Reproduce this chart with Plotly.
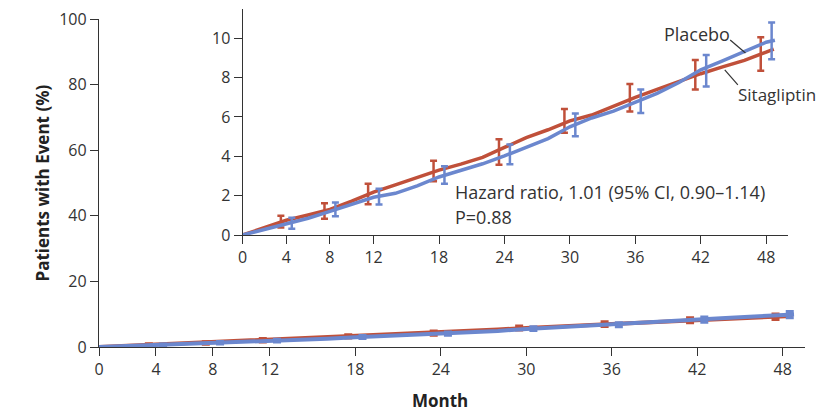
import plotly.graph_objects as go

# ---- data ----
months = [0, 2, 4, 6, 8, 10, 12, 14, 16, 18, 20, 22, 24, 26, 28, 30, 32, 34, 36, 38, 40, 42, 44, 46, 48]
sitagliptin = [0, 0.38, 0.75, 1.02, 1.3, 1.72, 2.18, 2.55, 2.92, 3.3, 3.6, 3.95, 4.45, 4.95, 5.35,
               5.8, 6.1, 6.55, 7.0, 7.4, 7.8, 8.2, 8.55, 8.88, 9.3]
placebo = [0, 0.28, 0.55, 0.85, 1.2, 1.55, 1.92, 2.12, 2.5, 2.95, 3.3, 3.62, 4.02, 4.45, 4.9,
           5.5, 5.95, 6.3, 6.75, 7.2, 7.75, 8.4, 8.85, 9.33, 9.8]
sita_end = (48.7, 9.45)
plac_end = (48.8, 9.9)

sita_ci_month = [3.5, 7.5, 11.5, 17.5, 23.5, 29.5, 35.5, 41.5, 47.5]
sita_ci_mid = [0.68, 1.22, 2.08, 3.25, 4.22, 5.8, 6.98, 8.15, 9.2]
sita_ci_half = [0.3, 0.4, 0.52, 0.52, 0.65, 0.6, 0.7, 0.75, 0.85]

plac_ci_month = [4.5, 8.5, 12.5, 18.5, 24.5, 30.5, 36.5, 42.5, 48.5]
plac_ci_mid = [0.6, 1.3, 1.95, 3.05, 4.1, 5.6, 6.8, 8.35, 9.87]
plac_ci_half = [0.28, 0.35, 0.4, 0.45, 0.5, 0.58, 0.6, 0.8, 0.93]

month_ticks = [0, 4, 8, 12, 18, 24, 30, 36, 42, 48]
main_y_ticks = [0, 20, 40, 60, 80, 100]
inset_y_ticks = [0, 2, 4, 6, 8, 10]

RED = "#C0503A"
BLUE = "#6B87CE"
AX = "#333333"
FONT = "Open Sans"

sx = months + [sita_end[0]]
sy = sitagliptin + [sita_end[1]]
px = months + [plac_end[0]]
py = placebo + [plac_end[1]]

fig = go.Figure()


def add_series(xa, ya, lw, ew, cap):
    fig.add_trace(go.Scatter(x=sx, y=sy, mode="lines", line=dict(color=RED, width=lw),
                             xaxis=xa, yaxis=ya, hoverinfo="skip"))
    fig.add_trace(go.Scatter(x=sita_ci_month, y=sita_ci_mid, mode="markers",
                             marker=dict(size=1, color=RED, opacity=0),
                             error_y=dict(type="data", array=sita_ci_half, color=RED,
                                          thickness=ew, width=cap),
                             xaxis=xa, yaxis=ya, hoverinfo="skip"))
    fig.add_trace(go.Scatter(x=px, y=py, mode="lines", line=dict(color=BLUE, width=lw),
                             xaxis=xa, yaxis=ya, hoverinfo="skip"))
    fig.add_trace(go.Scatter(x=plac_ci_month, y=plac_ci_mid, mode="markers",
                             marker=dict(size=1, color=BLUE, opacity=0),
                             error_y=dict(type="data", array=plac_ci_half, color=BLUE,
                                          thickness=ew, width=cap),
                             xaxis=xa, yaxis=ya, hoverinfo="skip"))


add_series("x", "y", 4, 3, 4)
add_series("x2", "y2", 3.5, 2.5, 3.5)

# page body has an 8px margin; figure is sized to fill the rest of the window
OFF = 8
W, H = 825 - OFF, 414 - OFF


def fx(p):
    return (p - OFF) / W


def fy(p):
    return 1 - (p - OFF) / H


tickfont = dict(family=FONT, size=16, color=AX)

axis_common = dict(showgrid=False, zeroline=False, showline=True, linecolor=AX, linewidth=1.3,
                   ticks="outside", ticklen=8, tickwidth=1.3, tickcolor=AX, tickfont=tickfont,
                   automargin=False, ticklabeloverflow="allow")

fig.update_layout(
    width=W, height=H,
    margin=dict(l=0, r=0, t=0, b=0, pad=0),
    paper_bgcolor="white", plot_bgcolor="rgba(0,0,0,0)",
    showlegend=False,
    xaxis=dict(domain=[fx(99), fx(805)], range=[0, 49.57], tickvals=month_ticks,
               anchor="y", **axis_common),
    yaxis=dict(domain=[fy(347), fy(19)], range=[0, 100], tickvals=main_y_ticks,
               anchor="x", **axis_common),
    xaxis2=dict(domain=[fx(242.7), fx(788)], range=[0, 50], tickvals=month_ticks,
                anchor="y2", **axis_common),
    yaxis2=dict(domain=[fy(235), fy(8.8)], range=[0, 11.5], tickvals=inset_y_ticks,
                anchor="x2", **axis_common),
)

txt = dict(family=FONT, size=18, color=AX)
fig.add_annotation(x=fx(28), y=fy(183), xref="paper", yref="paper", textangle=-90,
                   text="<b>Patients with Event (%)</b>", showarrow=False,
                   font=dict(family=FONT, size=17, color="#222"))
fig.add_annotation(x=fx(440), y=0, xref="paper", yref="paper", yanchor="bottom",
                   text="<b>Month</b>", showarrow=False,
                   font=dict(family=FONT, size=17, color="#222"))

fig.add_annotation(x=19.27, y=2.2, xref="x2", yref="y2", xanchor="left",
                   text="Hazard ratio, 1.01 (95% CI, 0.90\u20131.14)", showarrow=False, font=txt)
fig.add_annotation(x=19.27, y=0.93, xref="x2", yref="y2", xanchor="left",
                   text="P=0.88", showarrow=False, font=txt)
fig.add_annotation(x=41.7, y=10.22, xref="x2", yref="y2", text="Placebo", showarrow=False, font=txt)
fig.add_annotation(x=45.2, y=7.12, xref="x2", yref="y2", xanchor="left", text="Sitagliptin",
                   showarrow=False, font=dict(family=FONT, size=17, color=AX))

fig.add_shape(type="line", xref="x2", yref="y2", x0=44.7, y0=9.91, x1=46.1, y1=9.25,
              line=dict(color=AX, width=1.2))
fig.add_shape(type="line", xref="x2", yref="y2", x0=44.2, y0=8.39, x1=45.4, y1=7.63,
              line=dict(color=AX, width=1.2))

fig.write_html("out.html")
